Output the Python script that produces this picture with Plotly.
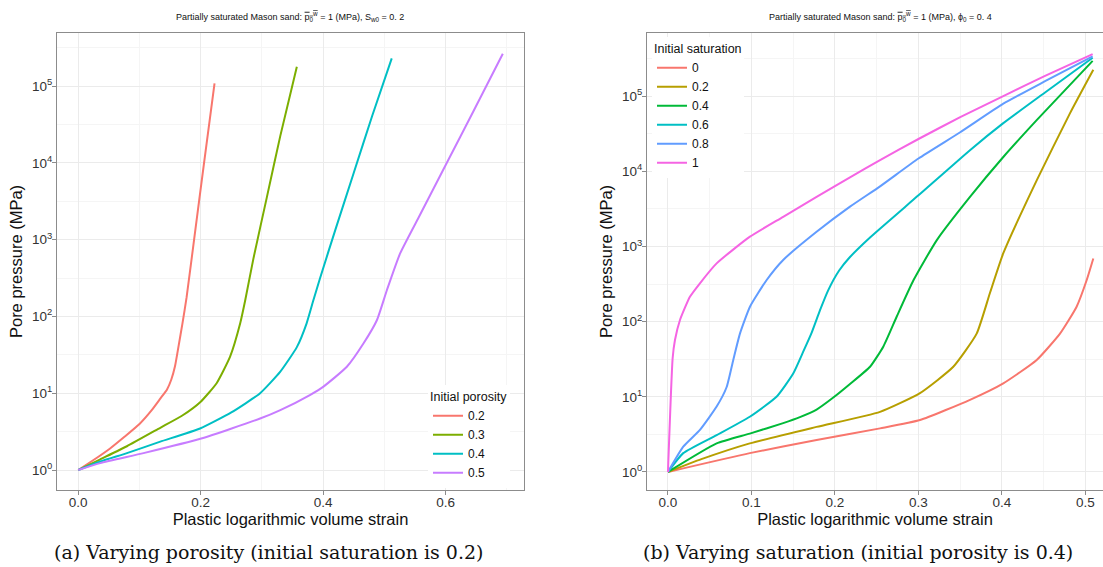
import plotly.graph_objects as go

# ---------------- Panel (a): varying porosity (S_w0 = 0.2) ----------------
porosity_labels = ["0.2", "0.3", "0.4", "0.5"]
porosity_colors = ["#F8766D", "#7CAE00", "#00BFC4", "#C77CFF"]

strain_phi_02 = [0, 0.025, 0.052, 0.075, 0.1, 0.12, 0.134, 0.145, 0.152, 0.158, 0.164, 0.17, 0.177, 0.19, 0.205, 0.2226]
press_phi_02 = [1, 1.35, 1.91, 2.69, 3.98, 6.03, 8.51, 11.2, 15.1, 22.4, 41.7, 79.4, 178, 1122, 9333, 108400]

strain_phi_03 = [0, 0.036, 0.0795, 0.134, 0.17, 0.2, 0.226, 0.248, 0.2645, 0.2727, 0.286, 0.308, 0.33, 0.357]
press_phi_03 = [1, 1.38, 2.04, 3.55, 5.13, 7.76, 13.5, 29.9, 81.3, 162, 562, 3548, 22400, 177800]

strain_phi_04 = [0, 0.036, 0.0795, 0.134, 0.199, 0.25, 0.297, 0.33, 0.357, 0.373, 0.384, 0.395, 0.42, 0.45, 0.48, 0.512]
press_phi_04 = [1, 1.29, 1.66, 2.34, 3.47, 5.62, 10, 19.1, 39.8, 81.3, 162, 316, 1349, 7413, 40700, 229000]

strain_phi_05 = [0, 0.036, 0.1066, 0.2008, 0.297, 0.33, 0.379, 0.4005, 0.4387, 0.466, 0.4877, 0.504, 0.5257, 0.558, 0.602, 0.6454, 0.6934]
press_phi_05 = [1, 1.23, 1.66, 2.57, 4.68, 6.03, 9.55, 12.2, 22.1, 44.7, 89.1, 219, 661, 2089, 10000, 46800, 263000]

# ---------------- Panel (b): varying saturation (phi_0 = 0.4) ----------------
saturation_labels = ["0", "0.2", "0.4", "0.6", "0.8", "1"]
saturation_colors = ["#F8766D", "#B79F00", "#00BA38", "#00BFC4", "#619CFF", "#F564E3"]

strain_s_00 = [0, 0.098, 0.178, 0.254, 0.3018, 0.3617, 0.4016, 0.4416, 0.4695, 0.4894, 0.5014, 0.5094]
press_s_00 = [1, 1.78, 2.66, 3.8, 4.9, 9.12, 15.1, 30.9, 69.2, 158, 355, 692]

strain_s_02 = [0, 0.04, 0.098, 0.178, 0.254, 0.3018, 0.3417, 0.3697, 0.3856, 0.4016, 0.4416, 0.4814, 0.5094]
press_s_02 = [1, 1.48, 2.4, 3.98, 6.31, 11.2, 25.1, 69.2, 240, 813, 7586, 58900, 224000]

strain_s_04 = [0, 0.0583, 0.098, 0.138, 0.158, 0.178, 0.198, 0.218, 0.242, 0.258, 0.274, 0.294, 0.322, 0.3617, 0.4016, 0.4416, 0.5086]
press_s_04 = [1, 2.4, 3.24, 4.47, 5.37, 6.76, 9.77, 14.8, 25.1, 46.8, 117, 355, 1216, 4571, 15500, 47900, 295000]

strain_s_06 = [0, 0.0183, 0.0583, 0.098, 0.130, 0.150, 0.162, 0.172, 0.182, 0.192, 0.205, 0.218, 0.242, 0.30, 0.3617, 0.4016, 0.4516, 0.5086]
press_s_06 = [1, 1.78, 3.09, 5.43, 10, 20.4, 39.8, 70.8, 141, 263, 479, 724, 1318, 4786, 19100, 43700, 112000, 324000]

strain_s_08 = [0, 0.0183, 0.0383, 0.0583, 0.0703, 0.0782, 0.0862, 0.0982, 0.118, 0.138, 0.178, 0.218, 0.254, 0.30, 0.35, 0.4016, 0.4516, 0.5086]
press_s_08 = [1, 2.17, 3.63, 7.41, 13.5, 30.9, 69.2, 158, 355, 661, 1567, 3388, 6310, 14800, 33100, 79400, 158000, 339000]

strain_s_10 = [0, 0.0056, 0.0084, 0.0144, 0.0263, 0.0383, 0.0583, 0.0982, 0.138, 0.178, 0.218, 0.254, 0.30, 0.35, 0.4016, 0.4516, 0.5086]
press_s_10 = [1, 32.4, 56.9, 105, 214, 324, 596, 1349, 2483, 4571, 8318, 14100, 26900, 52500, 100000, 186000, 363000]

y_tick_vals = [1, 10, 100, 1000, 10000, 100000]
y_tick_text = ["10<sup>0</sup>", "10<sup>1</sup>", "10<sup>2</sup>", "10<sup>3</sup>", "10<sup>4</sup>", "10<sup>5</sup>"]
y_minor_vals = [3.1623, 31.623, 316.23, 3162.3, 31623, 316228]

left_x_ticks = [0.0, 0.2, 0.4, 0.6]
left_x_minor = [0.1, 0.3, 0.5, 0.7]
right_x_ticks = [0.0, 0.1, 0.2, 0.3, 0.4, 0.5]
right_x_minor = [0.05, 0.15, 0.25, 0.35, 0.45]

W, H = 1103, 567
fig = go.Figure()

left_series = [(strain_phi_02, press_phi_02), (strain_phi_03, press_phi_03),
               (strain_phi_04, press_phi_04), (strain_phi_05, press_phi_05)]
for (xs, ys), name, col in zip(left_series, porosity_labels, porosity_colors):
    fig.add_trace(go.Scatter(x=xs, y=ys, mode="lines", name=name,
                             line=dict(color=col, width=2, shape="spline", smoothing=0.5),
                             xaxis="x", yaxis="y", legend="legend"))

right_series = [(strain_s_00, press_s_00), (strain_s_02, press_s_02), (strain_s_04, press_s_04),
                (strain_s_06, press_s_06), (strain_s_08, press_s_08), (strain_s_10, press_s_10)]
for (xs, ys), name, col in zip(right_series, saturation_labels, saturation_colors):
    fig.add_trace(go.Scatter(x=xs, y=ys, mode="lines", name=name,
                             line=dict(color=col, width=2, shape="spline", smoothing=0.5),
                             xaxis="x2", yaxis="y2", legend="legend2"))

FONT = "Liberation Sans, Arial, sans-serif"
GRID = "#EBEBEB"
MINOR = "#F5F5F5"
BORDER = "#8C8C8C"
TICKFONT = dict(family=FONT, size=13.5, color="#333333")
TITLEFONT = dict(family=FONT, size=16.5, color="#111111")

def xaxis_common(ticks, minor, rng, domain, anchor):
    return dict(domain=domain, anchor=anchor, range=rng, tickvals=ticks,
                ticktext=[f"{t:.1f}" for t in ticks],
                showgrid=True, gridcolor=GRID, gridwidth=1.1,
                minor=dict(tickvals=minor, showgrid=True, gridcolor=MINOR, gridwidth=0.6, ticks=""),
                showline=True, linecolor=BORDER, linewidth=1, mirror=True,
                ticks="outside", ticklen=4, tickcolor=BORDER, tickfont=TICKFONT,
                ticklabelstandoff=-4,
                zeroline=False,
                title=dict(text="Plastic logarithmic volume strain", font=TITLEFONT, standoff=0))

def yaxis_common(rng, domain, anchor, mirror):
    return dict(domain=domain, anchor=anchor, type="log", range=rng,
                tickvals=y_tick_vals, ticktext=y_tick_text,
                showgrid=True, gridcolor=GRID, gridwidth=1.1,
                minor=dict(tickvals=y_minor_vals, showgrid=True, gridcolor=MINOR, gridwidth=0.6, ticks=""),
                showline=True, linecolor=BORDER, linewidth=1, mirror=mirror,
                ticks="outside", ticklen=4, tickcolor=BORDER, tickfont=TICKFONT,
                ticklabelstandoff=-3,
                zeroline=False,
                title=dict(text="Pore pressure (MPa)", font=TITLEFONT, standoff=5))

LEG_TITLE = dict(family=FONT, size=12.5, color="#111")
LEG_FONT = dict(family=FONT, size=12, color="#111")

ydom = [1 - 490 / H, 1 - 33 / H]
fig.update_layout(
    width=W, height=H,
    margin=dict(l=0, r=0, t=0, b=0),
    paper_bgcolor="white", plot_bgcolor="white",
    xaxis=xaxis_common(left_x_ticks, left_x_minor, [-0.0347, 0.728], [57 / W, 524 / W], "y"),
    yaxis=yaxis_common([-0.26, 5.69], ydom, "x", True),
    xaxis2=xaxis_common(right_x_ticks, right_x_minor, [-0.0251, 0.521], [647 / W, 1.0], "y2"),
    yaxis2=yaxis_common([-0.24, 5.84], ydom, "x2", False),
    legend=dict(title=dict(text="Initial porosity", font=LEG_TITLE),
                font=LEG_FONT,
                x=428 / W, y=1 - 385 / H, xanchor="left", yanchor="top",
                bgcolor="white", borderwidth=0, tracegroupgap=0, itemwidth=30),
    legend2=dict(title=dict(text="Initial saturation", font=LEG_TITLE),
                 font=LEG_FONT,
                 x=652 / W, y=1 - 37 / H, xanchor="left", yanchor="top",
                 bgcolor="white", borderwidth=0, tracegroupgap=0, itemwidth=30),
    showlegend=True,
)

ann = []
ann.append(dict(text="Partially saturated Mason sand: <span style='text-decoration:overline'>p<sub>0</sub><sup>w</sup></span> = 1 (MPa), S<sub>w0</sub> = 0. 2",
                x=290 / W, y=1 - 16 / H, xref="paper", yref="paper", showarrow=False,
                xanchor="center", yanchor="middle",
                font=dict(family=FONT, size=9, color="#111")))
ann.append(dict(text="Partially saturated Mason sand: <span style='text-decoration:overline'>p<sub>0</sub><sup>w</sup></span> = 1 (MPa), ϕ<sub>0</sub> = 0. 4",
                x=880 / W, y=1 - 16 / H, xref="paper", yref="paper", showarrow=False,
                xanchor="center", yanchor="middle",
                font=dict(family=FONT, size=9, color="#111")))
ann.append(dict(text="(a) Varying porosity (initial saturation is 0.2)",
                x=268 / W, y=1 - 552 / H, xref="paper", yref="paper", showarrow=False,
                xanchor="center", yanchor="middle",
                font=dict(family="DejaVu Serif, serif", size=19, color="#111")))
ann.append(dict(text="(b) Varying saturation (initial porosity is 0.4)",
                x=858 / W, y=1 - 552 / H, xref="paper", yref="paper", showarrow=False,
                xanchor="center", yanchor="middle",
                font=dict(family="DejaVu Serif, serif", size=19, color="#111")))
fig.update_layout(annotations=ann)

fig.write_html("out.html", config={"displayModeBar": False},
               post_script="document.body.style.margin='0';document.body.style.overflow='hidden';")
